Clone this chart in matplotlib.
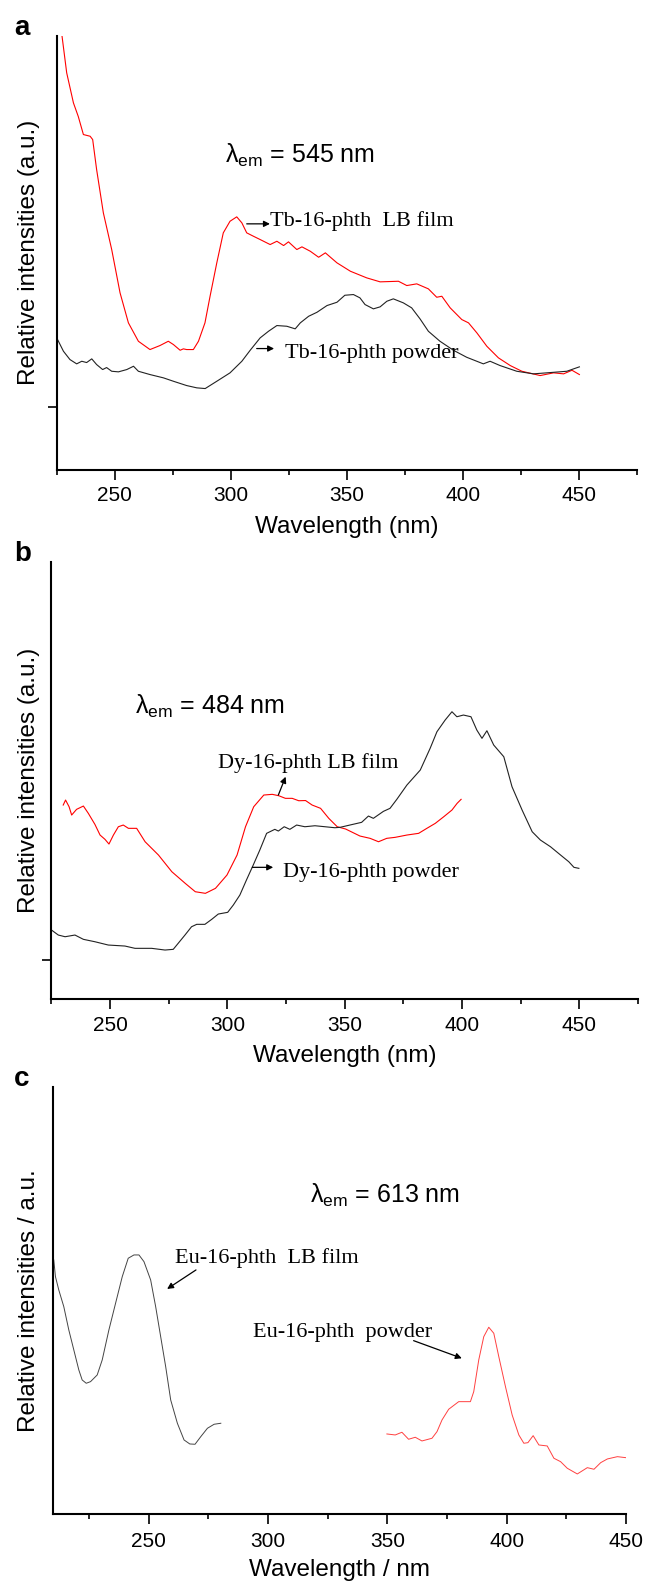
import matplotlib
matplotlib.use('Agg')
import matplotlib.pyplot as plt
from matplotlib.ticker import FixedLocator

plt.rcParams['font.family'] = ['Liberation Sans', 'DejaVu Sans']
plt.rcParams['mathtext.default'] = 'regular'

# ---- panel a : Tb-16-phth, lambda_em = 545 nm ----
tb_film_x = [227.2, 229.3, 232.2, 234.3, 236.5, 239.4, 240.5, 242.2, 245.1, 248.7, 252.3, 255.9,
             260.2, 265.2, 269.5, 273.1, 275.3, 278.2, 279.6, 281.0, 283.9, 286.1, 288.9, 291.1,
             294.0, 296.8, 299.7, 302.6, 304.8, 306.9, 309.8, 312.7, 317.0, 319.9, 322.8, 324.9,
             328.5, 330.7, 334.3, 337.9, 340.8, 345.8, 351.6, 358.6, 364.4, 372.3, 375.9, 380.2,
             385.2, 388.8, 391.0, 394.6, 399.6, 402.5, 406.1, 410.4, 415.4, 420.5, 425.5, 433.4,
             439.2, 443.5, 447.1, 450.3]
tb_film_y = [435.0, 396.7, 366.7, 353.0, 335.0, 333.3, 330.0, 300.0, 256.7, 220.0, 176.7, 146.7,
             128.3, 120.0, 124.0, 128.3, 125.0, 119.3, 120.7, 120.0, 120.0, 128.3, 146.7, 173.3,
             206.7, 236.7, 248.3, 252.7, 246.7, 236.7, 233.3, 230.0, 225.0, 228.3, 224.0, 227.7,
             220.0, 222.7, 218.3, 212.3, 216.7, 206.7, 198.3, 191.7, 187.7, 188.3, 184.0, 185.7,
             180.7, 172.3, 173.3, 161.7, 150.0, 146.7, 136.7, 123.3, 111.7, 104.0, 98.3, 94.0,
             96.7, 95.7, 99.3, 95.0]
tb_powder_x = [225.0, 227.9, 230.7, 233.6, 235.8, 237.9, 240.1, 242.2, 244.8, 246.5, 248.7, 251.6,
               255.2, 258.1, 260.2, 265.2, 271.0, 275.3, 281.0, 285.4, 289.0, 294.0, 299.7, 304.8,
               308.4, 312.7, 316.3, 319.9, 324.2, 327.8, 330.0, 333.6, 337.2, 341.5, 345.8, 349.2,
               352.9, 355.7, 357.9, 361.5, 364.4, 367.3, 370.1, 374.4, 378.0, 381.6, 385.2, 390.2,
               396.0, 401.7, 408.9, 411.8, 416.1, 423.3, 430.5, 436.2, 444.9, 447.8, 450.3]
tb_powder_y = [131.7, 118.3, 110.0, 105.7, 108.3, 107.0, 110.7, 105.0, 100.0, 102.0, 98.3, 97.7,
               100.0, 103.3, 98.3, 95.0, 91.7, 88.3, 84.0, 81.7, 81.0, 88.3, 96.7, 108.3,
               119.3, 131.7, 138.3, 144.0, 143.3, 140.7, 146.7, 153.3, 157.3, 164.0, 167.3, 174.3,
               175.0, 171.7, 165.0, 160.7, 162.7, 168.3, 170.7, 166.7, 161.7, 150.7, 138.3, 128.3,
               119.3, 112.3, 105.7, 108.3, 104.0, 98.3, 95.7, 96.7, 98.3, 100.7, 102.7]

# ---- panel b : Dy-16-phth, lambda_em = 484 nm ----
dy_film_x = [230.0, 231.0, 232.5, 233.6, 235.7, 238.6, 240.7, 243.5, 245.7, 247.8, 249.5, 251.4,
             253.5, 255.6, 257.8, 261.3, 264.9, 270.6, 276.3, 282.0, 286.3, 290.6, 294.9, 299.8,
             304.1, 307.7, 311.2, 315.5, 319.1, 321.9, 324.7, 327.6, 330.4, 333.3, 336.1, 339.7,
             343.2, 346.8, 350.4, 356.5, 360.8, 364.4, 367.9, 371.5, 376.5, 381.5, 385.0, 388.6,
             392.2, 395.7, 397.9, 399.6]
dy_film_y = [194.0, 199.0, 192.3, 184.0, 189.7, 193.0, 185.7, 174.7, 164.0, 159.7, 155.0, 164.0,
             172.3, 174.0, 170.7, 170.7, 157.3, 144.0, 127.3, 115.7, 107.3, 105.7, 110.7, 124.0,
             144.0, 172.3, 192.3, 204.0, 204.7, 203.3, 200.7, 200.7, 198.3, 198.5, 194.0, 190.7,
             180.7, 172.3, 170.0, 163.0, 160.7, 157.3, 160.7, 161.7, 164.0, 165.7, 170.7, 175.7,
             182.3, 189.0, 195.7, 199.7]
dy_powder_x = [225.0, 227.9, 230.8, 235.0, 238.6, 243.5, 249.2, 256.3, 260.6, 267.7, 273.4, 276.9,
               279.0, 281.9, 284.7, 286.9, 290.4, 293.3, 296.1, 300.1, 302.5, 305.3, 308.1, 311.0,
               313.8, 316.7, 320.2, 321.7, 324.2, 326.6, 329.5, 333.0, 337.3, 341.6, 345.8, 348.0,
               352.2, 357.2, 360.1, 362.2, 366.5, 369.3, 372.2, 376.5, 382.2, 386.4, 389.3, 392.8,
               395.7, 397.8, 400.6, 403.8, 406.3, 408.5, 410.6, 413.5, 417.8, 421.3, 425.6, 429.9,
               433.4, 437.7, 442.0, 445.5, 447.7, 449.8]
dy_powder_y = [69.0, 64.0, 62.3, 64.0, 59.7, 57.3, 54.0, 53.0, 50.7, 50.7, 49.0, 49.7,
               55.7, 64.0, 72.3, 74.7, 74.7, 79.7, 85.0, 86.7, 94.0, 104.0, 119.0, 134.0,
               149.0, 165.7, 169.7, 168.0, 172.3, 169.7, 174.0, 172.3, 173.3, 172.3, 171.3, 171.7,
               174.0, 176.7, 183.0, 180.7, 187.7, 190.7, 199.7, 214.0, 229.0, 250.7, 267.3, 279.0,
               287.3, 282.3, 284.0, 282.3, 269.0, 260.7, 268.3, 254.0, 242.3, 212.3, 189.0, 167.3,
               159.0, 152.3, 144.0, 137.3, 131.7, 130.7]

# ---- panel c : Eu-16-phth, lambda_em = 613 nm ----
eu_film_x = [210.2, 210.9, 212.3, 214.4, 216.5, 218.6, 220.7, 222.1, 223.8, 225.6, 228.4, 230.5,
             233.3, 236.1, 238.9, 241.4, 243.8, 245.9, 248.0, 250.8, 252.9, 255.0, 257.1, 259.2,
             262.0, 264.8, 267.2, 269.4, 271.8, 274.6, 277.4, 280.2]
eu_film_y = [254.0, 237.3, 224.0, 207.3, 184.0, 164.0, 144.0, 134.0, 130.7, 132.3, 139.0, 154.0,
             184.0, 210.7, 237.3, 255.7, 259.0, 259.0, 252.3, 234.0, 207.3, 177.3, 147.3, 114.0,
             90.7, 74.0, 70.0, 69.7, 77.3, 85.7, 89.7, 90.7]
eu_powder_x = [349.8, 353.3, 356.1, 358.9, 361.7, 364.5, 368.7, 370.8, 372.9, 375.7, 379.9, 382.7,
               384.8, 386.2, 388.3, 390.4, 392.5, 394.6, 396.7, 399.5, 402.3, 405.1, 407.2, 408.9,
               411.1, 413.5, 417.0, 419.8, 422.6, 425.4, 429.6, 433.8, 436.6, 439.4, 442.2, 446.4,
               449.9]
eu_powder_y = [80.0, 79.0, 81.7, 74.7, 76.7, 73.0, 75.7, 82.3, 94.0, 104.7, 112.3, 112.3,
               112.3, 122.3, 154.0, 177.3, 186.7, 180.7, 157.3, 127.3, 99.0, 79.0, 70.7, 71.3,
               78.3, 69.0, 68.0, 55.7, 52.3, 45.7, 40.0, 46.3, 44.7, 51.3, 55.0, 57.3,
               56.3]

SERIF = ['Liberation Serif', 'DejaVu Serif']

fig = plt.figure(figsize=(6.46, 15.81), dpi=100)
ax_a = fig.add_axes([0.0878, 0.7030, 0.8978, 0.2742])
ax_b = fig.add_axes([0.0797, 0.3681, 0.9079, 0.2764])
ax_c = fig.add_axes([0.0825, 0.0424, 0.8865, 0.2701])


def style(ax, xlim, ylim, yticks, minor, xlabel, ylabel, xlab_y, ylab_x, pad=5):
    ax.set_xlim(*xlim)
    ax.set_ylim(*ylim)
    for s in ('top', 'right'):
        ax.spines[s].set_visible(False)
    for s in ('left', 'bottom'):
        ax.spines[s].set_linewidth(1.5)
    ax.xaxis.set_major_locator(FixedLocator([250, 300, 350, 400, 450]))
    ax.xaxis.set_minor_locator(FixedLocator(minor))
    ax.set_yticks(yticks)
    ax.set_yticklabels([''] * len(yticks))
    ax.tick_params(axis='x', which='major', direction='out', length=7, width=1.2,
                   labelsize=15, pad=pad)
    ax.tick_params(axis='x', which='minor', direction='out', length=3.5, width=1.2)
    ax.tick_params(axis='y', which='major', direction='out', length=6.5, width=1.2)
    ax.set_xlabel(xlabel, fontsize=17.5)
    ax.set_ylabel(ylabel, fontsize=17.5)
    ax.xaxis.set_label_coords(0.5, xlab_y)
    ax.yaxis.set_label_coords(ylab_x, 0.5)


def note(ax, text, xy_text, arrow_from, arrow_to):
    ax.text(xy_text[0], xy_text[1], text, family=SERIF, fontsize=16,
            ha='left', va='baseline')
    ax.annotate('', xy=arrow_to, xytext=arrow_from,
                arrowprops=dict(arrowstyle='-|>', color='black', lw=0.9,
                                mutation_scale=9, shrinkA=0, shrinkB=0))


# panel a
ax_a.plot(tb_film_x, tb_film_y, color='#ff0000', lw=0.8)
ax_a.plot(tb_powder_x, tb_powder_y, color='#222222', lw=0.8)
style(ax_a, (225, 475), (0, 433.5), [62.3], [225, 275, 325, 375, 425, 475],
      'Wavelength (nm)', 'Relative intensities (a.u.)', -0.108, -0.029)
ax_a.text(297.5, 306.7, 'λ$_{em}$ = 545 nm', fontsize=18, ha='left', va='baseline')
note(ax_a, 'Tb-16-phth  LB film', (316.9, 243.3), (306.9, 245.7), (316.9, 245.7))
note(ax_a, 'Tb-16-phth powder', (323.4, 111.7), (311.2, 121.0), (318.7, 121.0))

# panel b
ax_b.plot(dy_film_x, dy_film_y, color='#ff0000', lw=0.8)
ax_b.plot(dy_powder_x, dy_powder_y, color='#222222', lw=0.8)
style(ax_b, (225, 475), (0, 437), [39], [225, 275, 325, 375, 425, 475],
      'Wavelength (nm)', 'Relative intensities (a.u.)', -0.105, -0.0196)
ax_b.text(260.6, 285.0, 'λ$_{em}$ = 484 nm', fontsize=18, ha='left', va='baseline')
note(ax_b, 'Dy-16-phth LB film', (296.1, 230.7), (321.7, 204.0), (324.8, 222.3))
note(ax_b, 'Dy-16-phth powder', (323.8, 122.3), (310.6, 131.7), (319.5, 131.7))

# panel c
ax_c.plot(eu_film_x, eu_film_y, color='#444444', lw=0.7)
ax_c.plot(eu_powder_x, eu_powder_y, color='#ff4040', lw=0.7)
style(ax_c, (210, 450), (0, 427), [], [225, 275, 325, 375, 425],
      'Wavelength / nm', 'Relative intensities / a.u.', -0.106, -0.0232, pad=6)
ax_c.text(317.7, 311.0, 'λ$_{em}$ = 613 nm', fontsize=18, ha='left', va='baseline')
note(ax_c, 'Eu-16-phth  LB film', (260.9, 250.7), (269.8, 244.0), (257.7, 225.0))
note(ax_c, 'Eu-16-phth  powder', (293.8, 177.3), (361.0, 173.3), (381.2, 155.7))

# panel letters
for letter, ybase in (('a', 35), ('b', 561), ('c', 1086)):
    fig.text(14 / 646, 1 - ybase / 1581, letter, fontsize=20, fontweight='bold',
             ha='left', va='baseline')

fig.savefig('out.png', dpi=100)
